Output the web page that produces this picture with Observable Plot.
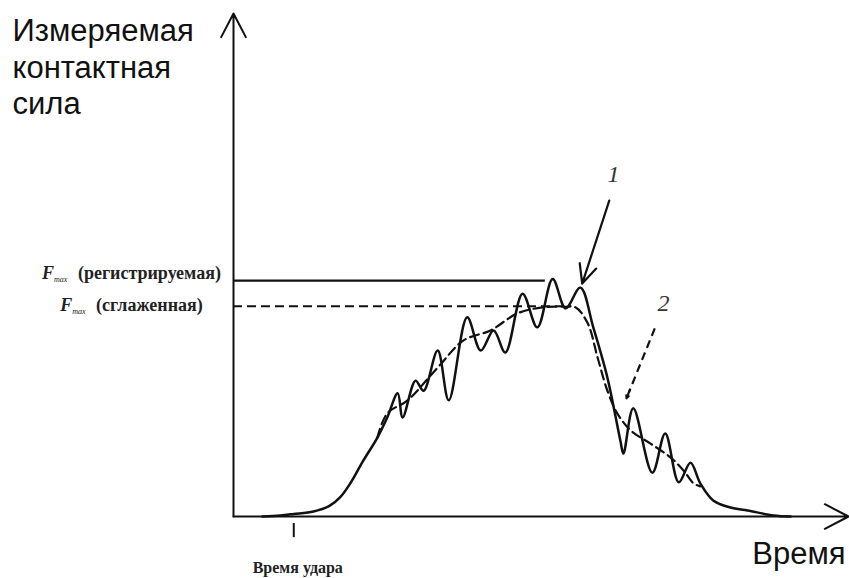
<!DOCTYPE html>
<html><head><meta charset="utf-8">
<script src="https://cdn.jsdelivr.net/npm/d3@7"></script>
<script src="https://cdn.jsdelivr.net/npm/@observablehq/plot@0.6"></script>
<style>body{margin:0;background:#fff} #chart svg{display:block}</style>
</head><body><div id="chart"></div>
<script>
// Measured (registered) contact force – curve 1
const measuredTime  = [4.7, 7.6, 9.8, 13.0, 15.6, 17.4, 19.0, 21.1, 23.4, 25.0, 26.7, 27.5, 29.6, 30.9, 33.2, 35.0, 38.0, 40.2, 42.3, 44.2, 47.0, 49.4, 51.9, 54.0, 56.4, 58.5, 60.8, 62.9, 63.4, 65.0, 68.1, 70.2, 72.4, 74.3, 75.9, 78.0, 80.8, 83.6, 87.8, 90.6];
const measuredForce = [0.0, 0.2, 0.5, 1.0, 2.1, 3.9, 6.6, 11.1, 15.7, 19.7, 24.5, 19.7, 27.0, 25.0, 33.0, 23.1, 39.6, 33.0, 37.0, 32.6, 44.3, 37.6, 47.2, 41.4, 45.5, 37.6, 27.6, 15.1, 12.5, 21.5, 8.7, 16.5, 6.8, 10.7, 6.6, 3.2, 1.8, 1.2, 0.2, 0.0];
// Smoothed contact force – curve 2
const smoothTime  = [23.4, 25.0, 28.3, 33.2, 37.4, 41.8, 46.2, 50.4, 53.7, 55.6, 57.6, 59.2, 60.8, 62.4, 64.6, 67.8, 71.1, 73.2, 74.8, 75.9];
const smoothForce = [15.7, 20.5, 23.1, 29.6, 35.0, 37.0, 40.4, 41.6, 41.7, 41.6, 38.4, 31.6, 25.0, 20.5, 17.1, 14.5, 11.7, 9.1, 6.6, 6.0];
// F max levels
const levelNames  = ["(регистрируемая)", "(сглаженная)"];
const levelValues = [46.9, 41.8];
const levelEnds   = [50.7, 55.0];
// Impact time
const impactTime = 9.8;
const impactLabel = "Время удара";
// Axis titles
const yTitle = "Измеряемая\nконтактная\nсила";
const xTitle = "Время";
// Callouts
const calloutLabels = ["1", "2"];
const calloutFrom   = [[61.1, 62.8], [68.5, 37.4]];
const calloutTo     = [[56.7, 46.3], [63.9, 23.5]];
const calloutText   = [[61.8, 68.0], [69.9, 42.3]];
const xDomain = [0, 100];
const yDomain = [0, 100];

const measured = measuredTime.map((t, i) => ({t, f: measuredForce[i]}));
const smooth = smoothTime.map((t, i) => ({t, f: smoothForce[i]}));
const levelReg = [{name: "Fmax " + levelNames[0], value: levelValues[0], end: levelEnds[0]}];
const levelSmooth = [{name: "Fmax " + levelNames[1], value: levelValues[1], end: levelEnds[1]}];
const callouts = calloutLabels.map((label, i) => ({label, x1: calloutFrom[i][0], y1: calloutFrom[i][1], x2: calloutTo[i][0], y2: calloutTo[i][1], lx: calloutText[i][0], ly: calloutText[i][1]}));
const axesArrows = [
  {x1: xDomain[0], y1: yDomain[0], x2: xDomain[1], y2: yDomain[0]},
  {x1: xDomain[0], y1: yDomain[0], x2: xDomain[0], y2: yDomain[1]}
];
const ink = "#111";
const serif = "Liberation Serif, Times New Roman, serif";
const sans = "Liberation Sans, Arial, sans-serif";
const labelStyle = {textAnchor: "middle", lineAnchor: "bottom", fontFamily: serif, fontWeight: "bold", fontSize: 18, fill: "#222"};

const chart = Plot.plot({
  width: 849, height: 578,
  marginLeft: 233, marginRight: 1, marginTop: 13, marginBottom: 62,
  x: {domain: xDomain, axis: null},
  y: {domain: yDomain, axis: null},
  style: {background: "#fff", color: ink},
  marks: [
    // level lines
    Plot.ruleY(levelReg, {y: "value", x1: 0, x2: "end", stroke: ink, strokeWidth: 2.2}),
    Plot.ruleY(levelSmooth, {y: "value", x1: 0, x2: "end", stroke: ink, strokeWidth: 2.2, strokeDasharray: "9,5"}),
    // curves
    Plot.line(smooth, {x: "t", y: "f", curve: "catmull-rom", stroke: ink, strokeWidth: 2.2, strokeDasharray: "9,5"}),
    Plot.line(measured, {x: "t", y: "f", curve: "catmull-rom", stroke: ink, strokeWidth: 2.5}),
    // axes
    Plot.arrow(axesArrows, {x1: "x1", y1: "y1", x2: "x2", y2: "y2", stroke: ink, strokeWidth: 2, headLength: 20, headAngle: 55}),
    // impact tick
    Plot.ruleX([impactTime], {y1: -1.4, y2: -4.2, stroke: ink, strokeWidth: 2}),
    Plot.text([impactLabel], {x: impactTime, y: yDomain[0], text: d => d, dy: 56, dx: 4, lineAnchor: "bottom", textAnchor: "middle", fontFamily: serif, fontWeight: "bold", fontSize: 16, fill: "#222"}),
    // callouts
    Plot.arrow(callouts.filter(d => d.label === "1"), {x1: "x1", y1: "y1", x2: "x2", y2: "y2", stroke: ink, strokeWidth: 2.2, headLength: 14, headAngle: 50}),
    Plot.link(callouts.filter(d => d.label === "2"), {x1: "x1", y1: "y1", x2: d => d.x2 + (d.x1 - d.x2) * 0.08, y2: d => d.y2 + (d.y1 - d.y2) * 0.08, stroke: ink, strokeWidth: 2.2, strokeDasharray: "8,5"}),
    Plot.arrow(callouts.filter(d => d.label === "2"), {x1: d => d.x2 + (d.x1 - d.x2) * 0.12, y1: d => d.y2 + (d.y1 - d.y2) * 0.12, x2: "x2", y2: "y2", stroke: ink, strokeWidth: 2.2, headLength: 14, headAngle: 50}),
    Plot.text(callouts, {x: "lx", y: "ly", text: "label", fontFamily: serif, fontStyle: "italic", fontSize: 24, fill: "#333"}),
    // level labels
    Plot.text(levelReg, {x: 0, y: "value", text: "name", dx: -102, dy: -2, ...labelStyle}),
    Plot.text(levelSmooth, {x: 0, y: "value", text: "name", dx: -102, dy: 5, ...labelStyle}),
    // axis titles
    Plot.text([yTitle], {frameAnchor: "top-left", text: d => d, dx: -221, dy: 1, textAnchor: "start", lineAnchor: "top", lineHeight: 1.19, fontFamily: sans, fontSize: 31, fill: ink}),
    Plot.text([xTitle], {frameAnchor: "bottom-right", text: d => d, dx: -3, dy: 47, textAnchor: "end", lineAnchor: "bottom", fontFamily: sans, fontSize: 31, fill: ink})
  ]
});

// subscript "max" on F labels
chart.querySelectorAll("text").forEach(t => {
  const s = t.textContent;
  if (s.startsWith("Fmax ")) {
    const rest = s.slice(4);
    t.textContent = "";
    const add = (txt, attrs) => {
      const ts = document.createElementNS("http://www.w3.org/2000/svg", "tspan");
      for (const k in attrs) ts.setAttribute(k, attrs[k]);
      ts.textContent = txt;
      t.appendChild(ts);
    };
    add("F", {"font-style": "italic"});
    add("max", {"font-size": "8", "font-style": "italic", "font-weight": "normal", dy: "3"});
    add(rest, {dy: "-3", dx: "6"});
  }
});
document.getElementById("chart").appendChild(chart);
</script>
</body></html>
